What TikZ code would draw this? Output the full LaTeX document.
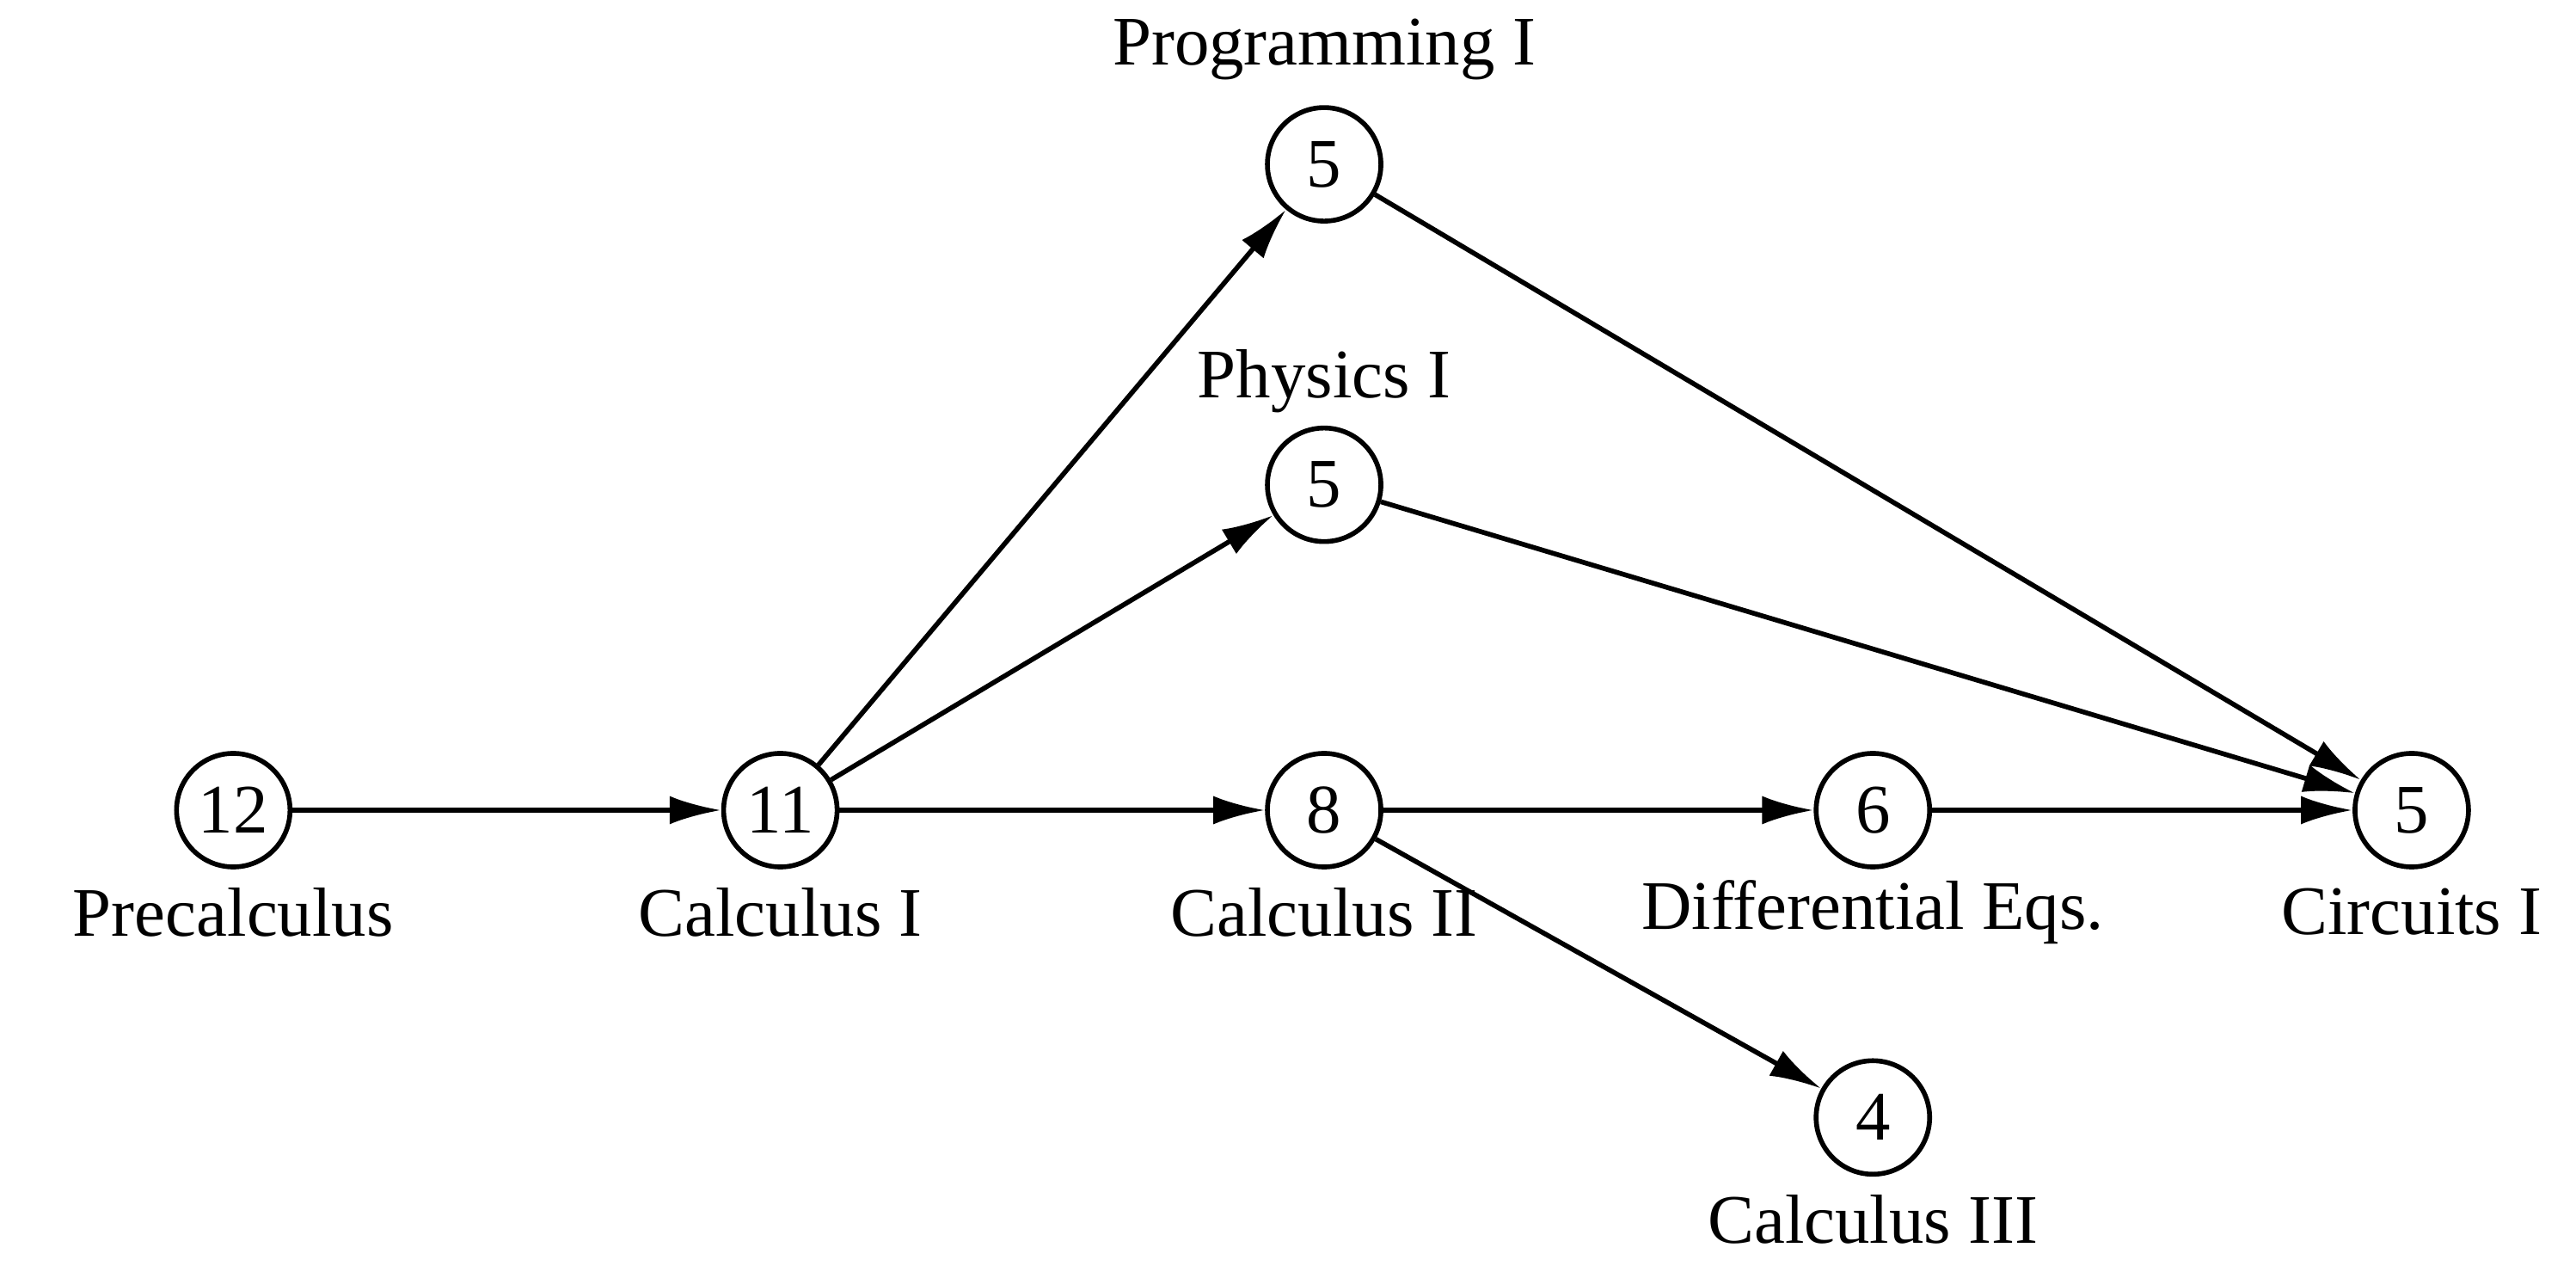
\documentclass[tikz,border=0pt]{standalone}
\usepackage{fontspec}
\setmainfont{Liberation Serif}
\usetikzlibrary{arrows.meta}
\begin{document}
\begin{tikzpicture}[x=0.01911cm,y=-0.01911cm,
  v/.style={circle,draw,line width=1.6pt,minimum size=1.32cm,inner sep=0pt,font=\fontsize{23}{27}\selectfont},
  lbl/.style={font=\fontsize{23}{27}\selectfont,inner sep=0pt},
  e/.style={line width=1.6pt,-{Latex[length=0.6cm,width=0.33cm]}}]
\useasboundingbox (0,0) rectangle (1568,770);
\node[v] (pre) at (142,493) {12};
\node[v] (c1) at (475,493) {11};
\node[v] (c2) at (806,493) {8};
\node[v] (de) at (1140,493) {6};
\node[v] (ci) at (1468,493) {5};
\node[v] (pr) at (806,100) {5};
\node[v] (ph) at (806,295) {5};
\node[v] (c3) at (1140,680) {4};
\node[lbl] (lpre) at (142,555) {Precalculus};
\node[lbl] (lc1) at (475,555) {Calculus I};
\node[lbl] (lc2) at (806,555) {Calculus II};
\node[lbl] (lde) at (1140,555) {Differential Eqs.};
\node[lbl] (lci) at (1468,555) {Circuits I};
\node[lbl] (lpr) at (806,30) {Programming I};
\node[lbl] (lph) at (806,232) {Physics I};
\node[lbl] (lc3) at (1140,742) {Calculus III};
\draw[e] (pre) -- (c1);
\draw[e] (c1) -- (c2);
\draw[e] (c1) -- (pr);
\draw[e] (c1) -- (ph);
\draw[e] (c2) -- (de);
\draw[e] (c2) -- (c3);
\draw[e] (de) -- (ci);
\draw[e] (pr) -- (ci);
\draw[e] (ph) -- (ci);
\end{tikzpicture}
\end{document}
